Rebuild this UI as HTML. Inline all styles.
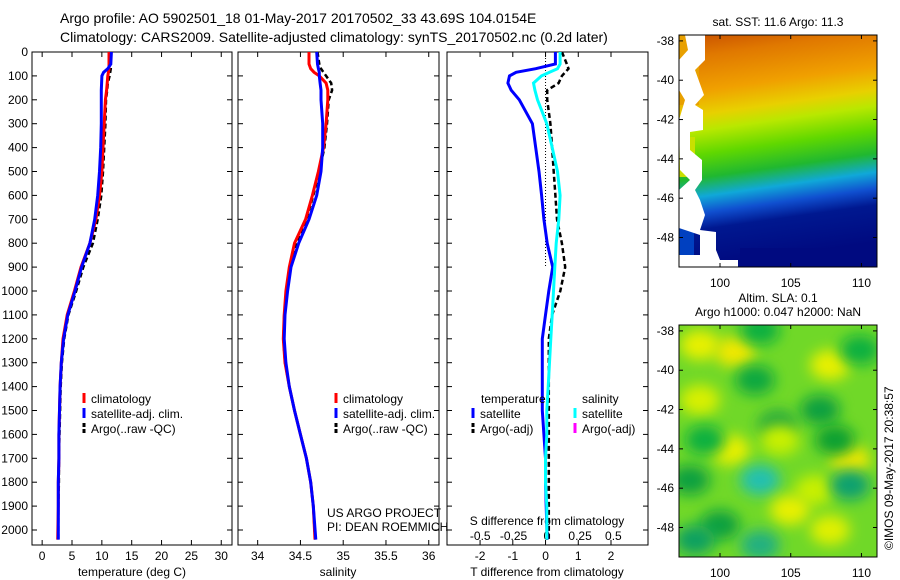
<!DOCTYPE html>
<html><head><meta charset="utf-8">
<style>
body{margin:0;background:#fff;}
svg{display:block;font-family:"Liberation Sans",sans-serif;}
</style></head>
<body>
<svg id="fig" width="900" height="580" viewBox="0 0 900 580">
<defs>
<linearGradient id="sstGrad" x1="0" y1="0" x2="0.12" y2="1">
<stop offset="0" stop-color="#c85000"/><stop offset="0.1" stop-color="#e07800"/>
<stop offset="0.25" stop-color="#f0a000"/><stop offset="0.35" stop-color="#e8d000"/>
<stop offset="0.42" stop-color="#b8e800"/><stop offset="0.52" stop-color="#60d800"/>
<stop offset="0.62" stop-color="#20b830"/><stop offset="0.7" stop-color="#10a8d8"/>
<stop offset="0.77" stop-color="#1050d0"/><stop offset="0.84" stop-color="#001890"/>
<stop offset="1" stop-color="#000a80"/>
</linearGradient>
<filter id="blur" x="-50%" y="-50%" width="200%" height="200%"><feGaussianBlur stdDeviation="7"/></filter>
<clipPath id="clipA"><rect x="679" y="325" width="198" height="232"/></clipPath>
<clipPath id="clipS"><rect x="679" y="35" width="198" height="232"/></clipPath>
</defs>
<text x="60" y="23" font-size="14">Argo profile: AO 5902501_18 01-May-2017 20170502_33 43.69S 104.0154E</text>
<text x="60" y="42" font-size="14">Climatology: CARS2009. Satellite-adjusted climatology: synTS_20170502.nc (0.2d later)</text>
<g id="plots"></g>
<g id="maps"></g>
</svg>
<script>
// depth levels (dbar)
const depths = [0,50,70,85,100,130,160,200,300,400,500,600,700,800,900,1000,1100,1200,1300,1400,1500,1600,1700,1800,1900,2040];
// temperature (deg C)
const tempClim = [11.2,11.2,11.2,11.1,11.0,10.9,10.8,10.6,10.4,10.2,10.0,9.6,9.0,8.0,6.5,5.4,4.2,3.5,3.2,3.0,2.9,2.8,2.8,2.7,2.7,2.6];
const tempSat  = [11.6,11.5,11.0,10.3,10.0,9.95,9.9,9.9,9.9,9.8,9.6,9.3,8.8,8.0,6.6,5.5,4.3,3.6,3.2,3.0,2.9,2.8,2.8,2.7,2.7,2.7];
const tempArgo = [11.4,11.5,11.5,11.4,11.3,11.0,10.9,10.7,10.6,10.4,10.2,9.9,9.3,8.5,6.9,5.7,4.4,3.7,3.3,3.1,3.0,2.9,2.8,2.8,2.7,2.7];
// salinity
const salClim = [34.60,34.60,34.62,34.66,34.72,34.80,34.82,34.82,34.80,34.77,34.71,34.64,34.56,34.43,34.37,34.33,34.31,34.30,34.32,34.37,34.43,34.50,34.57,34.62,34.65,34.67];
const salSat  = [34.69,34.70,34.71,34.72,34.72,34.73,34.74,34.74,34.76,34.76,34.74,34.69,34.60,34.48,34.39,34.35,34.32,34.31,34.33,34.37,34.43,34.50,34.57,34.62,34.65,34.68];
const salArgo = [34.70,34.72,34.74,34.77,34.80,34.86,34.87,34.83,34.81,34.78,34.72,34.65,34.57,34.45,34.38,34.34,34.31,34.30,34.32,34.37,34.43,34.50,34.57,34.62,34.65,34.67];
// differences from climatology
const tDiffSat  = [0.3,0.3,-0.3,-0.9,-1.1,-1.15,-1.05,-0.8,-0.4,-0.3,-0.2,-0.12,-0.05,0.05,0.22,0.1,0.0,-0.1,-0.1,-0.1,-0.1,-0.05,0.0,0.0,0.02,0.05];
const sDiffSat  = [0.1,0.1,0.08,0.02,-0.04,-0.1,-0.09,-0.07,0.0,0.04,0.08,0.1,0.09,0.07,0.06,0.05,0.04,0.03,0.02,0.01,0.0,0.0,-0.01,-0.01,0.0,0.0];
const tDiffArgo = [0.5,0.65,0.7,0.6,0.5,0.4,0.05,0.05,0.15,0.2,0.25,0.3,0.35,0.5,0.6,0.45,0.2,0.1,0.1,0.1,0.1,0.1,0.1,0.1,0.1,0.1];
// tick labels
const depthTicks = [0,100,200,300,400,500,600,700,800,900,1000,1100,1200,1300,1400,1500,1600,1700,1800,1900,2000];
const tempTicks = [0,5,10,15,20,25,30];
const salTicks = [34,34.5,35,35.5,36];
const tdTicks = [-2,-1,0,1,2];
const sdTicks = [-0.5,-0.25,0,0.25,0.5];
const latTicks = [-38,-40,-42,-44,-46,-48];
const lonTicks = [100,105,110];

const NS="http://www.w3.org/2000/svg";
const plots=document.getElementById('plots');
function mk(tag,attrs,parent){const e=document.createElementNS(NS,tag);for(const k in attrs)e.setAttribute(k,attrs[k]);(parent||plots).appendChild(e);return e;}
const yTop=52,yBot=545;
const yScale=d=>yTop+d*(478/2000);

const panels=[
 {name:'temperature',x0:32,x1:232,min:-1.7,max:31.8},
 {name:'salinity',x0:238,x1:439,min:33.77,max:36.12},
 {name:'difference',x0:447,x1:648,min:-3.01,max:3.13}
];
function sx(p,v){return p.x0+(v-p.min)/(p.max-p.min)*(p.x1-p.x0);}

panels.forEach(p=>{
  const f=mk('rect',{x:p.x0,y:yTop,width:p.x1-p.x0,height:yBot-yTop,fill:'none',stroke:'#000','stroke-width':1});
  
  
  depthTicks.forEach(d=>{
    const y=yScale(d);
    mk('line',{x1:p.x0,x2:p.x0+5,y1:y,y2:y,stroke:'#000'});
    mk('line',{x1:p.x1-5,x2:p.x1,y1:y,y2:y,stroke:'#000'});
  });
});
depthTicks.forEach(d=>{
  const t=mk('text',{x:28,y:yScale(d)+4,'font-size':12,'text-anchor':'end'});
  t.textContent=d;
  
  
});
function xTicks(p,ticks,fmt,y,top){
  ticks.forEach(v=>{
    const x=sx(p,v);
    mk('line',{x1:x,x2:x,y1:yBot-5,y2:yBot,stroke:'#000'});
    if(top) mk('line',{x1:x,x2:x,y1:yTop,y2:yTop+5,stroke:'#000'});
    const t=mk('text',{x:x,y:y,'font-size':12,'text-anchor':'middle'});
    t.textContent=fmt(v);
    
    
  });
}
xTicks(panels[0],tempTicks,v=>v,560,true);
xTicks(panels[1],salTicks,v=>v,560,true);
xTicks(panels[2],tdTicks,v=>v,560,true);
const pS={x0:447,x1:648,min:-0.75,max:0.76};
sdTicks.forEach(v=>{
  const t=mk('text',{x:sx(pS,v),y:540,'font-size':12,'text-anchor':'middle'});
  t.textContent=v;
  
  
});
function lbl(x,y,s,name,anchor){const t=mk('text',{x:x,y:y,'font-size':12,'text-anchor':anchor||'middle'});t.textContent=s;return t;}
lbl(132,576,'temperature (deg C)','temperature-axis-title');
lbl(338,576,'salinity','salinity-axis-title');
lbl(547,576,'T difference from climatology','t-diff-axis-title');
lbl(547,525,'S difference from climatology','s-diff-axis-title');
lbl(327,517,'US ARGO PROJECT','project-label','start');
lbl(327,531,'PI: DEAN ROEMMICH','pi-label','start');

function line(p,vals,color,w,dash,name){
  const pts=vals.map((v,i)=>sx(p,v).toFixed(1)+','+yScale(depths[i]).toFixed(1)).join(' ');
  const e=mk('polyline',{points:pts,fill:'none',stroke:color,'stroke-width':w});
  if(dash)e.setAttribute('stroke-dasharray',dash);
  
  
}
line(panels[0],tempArgo,'#000',2.5,'5,3','temp-argo-line');
line(panels[0],tempClim,'#f00',3,null,'temp-climatology-line');
line(panels[0],tempSat,'#00f',3,null,'temp-satellite-line');
line(panels[1],salArgo,'#000',2.5,'5,3','sal-argo-line');
line(panels[1],salClim,'#f00',3,null,'sal-climatology-line');
line(panels[1],salSat,'#00f',3,null,'sal-satellite-line');
const z=mk('line',{x1:sx(panels[2],0),x2:sx(panels[2],0),y1:yTop,y2:yScale(900),stroke:'#000','stroke-dasharray':'1,2'});

line(panels[2],tDiffArgo,'#000',2.5,'5,3','t-diff-argo-line');
line(panels[2],tDiffSat,'#00f',3,null,'t-diff-satellite-line');
line(pS,sDiffSat,'#0ff',3,null,'s-diff-satellite-line');

function legend(x,y,color,dash,text,name){
  const g=mk('g',{});
  mk('line',{x1:x,x2:x,y1:y-10,y2:y,stroke:color,'stroke-width':3,'stroke-dasharray':dash||'none'},g);
  const t=mk('text',{x:x+7,y:y,'font-size':12},g);t.textContent=text;
}
[84,336].forEach(x=>{
  legend(x,403,'#f00',null,'climatology','legend-climatology');
  legend(x,418,'#00f',null,'satellite-adj. clim.','legend-satellite-adj');
  legend(x,433,'#000','4,2','Argo(..raw -QC)','legend-argo');
});
lbl(481,403,'temperature','legend-temperature-header','start');
lbl(582,403,'salinity','legend-salinity-header','start');
legend(473,418,'#00f',null,'satellite','legend-t-satellite');
legend(473,433,'#000','4,2','Argo(-adj)','legend-t-argo');
legend(575,418,'#0ff',null,'satellite','legend-s-satellite');
legend(575,433,'#f0f',null,'Argo(-adj)','legend-s-argo');

// maps
const maps=document.getElementById('maps');
function mm(tag,attrs,parent){const e=document.createElementNS(NS,tag);for(const k in attrs)e.setAttribute(k,attrs[k]);(parent||maps).appendChild(e);return e;}
const mx0=679,mx1=877;
const lonX=l=>mx0+(l-97.1)*(198/14);
const latY=(la,y0)=>y0+(-37.7-la)*(232/11.8);
function mapAxes(y0,name){
  const r=mm('rect',{x:mx0,y:y0,width:198,height:232,fill:'none',stroke:'#000'});
  
  latTicks.forEach(la=>{const y=latY(la,y0);
    mm('line',{x1:mx0,x2:mx0+4,y1:y,y2:y,stroke:'#000'});mm('line',{x1:mx1-4,x2:mx1,y1:y,y2:y,stroke:'#000'});
    const t=mm('text',{x:674,y:y+4,'font-size':12,'text-anchor':'end'});t.textContent=la;
    });
  lonTicks.forEach(l=>{const x=lonX(l);
    mm('line',{x1:x,x2:x,y1:y0,y2:y0+4,stroke:'#000'});mm('line',{x1:x,x2:x,y1:y0+228,y2:y0+232,stroke:'#000'});
    const t=mm('text',{x:x,y:y0+252,'font-size':12,'text-anchor':'middle'});t.textContent=l;
    });
}
// SST map
const sg=mm('g',{'clip-path':'url(#clipS)'});

mm('rect',{x:mx0,y:35,width:198,height:232,fill:'url(#sstGrad)'},sg);
mm('rect',{x:679,y:35,width:20,height:70,fill:'#e8a000'},sg);
mm('rect',{x:679,y:137,width:16,height:40,fill:'#c8e000'},sg);
mm('rect',{x:679,y:210,width:15,height:57,fill:'#0040c0'},sg);
mm('polygon',{points:'685,35 705,35 705,60 695,70 704,95 695,105 703,110 703,130 690,132 690,150 702,160 702,180 695,190 700,200 705,215 700,230 716,232 716,250 720,260 738,260 738,267 679,267 679,255 700,255 700,235 679,228 679,190 690,180 680,170 679,120 685,100 679,90 679,60 688,50',fill:'#fff'},sg);
mm('rect',{x:740,y:248,width:137,height:19,fill:'#000a80'},sg);
mapAxes(35,'sst-map');
const st=mm('text',{x:778,y:26,'font-size':12,'text-anchor':'middle'});st.textContent='sat. SST: 11.6 Argo: 11.3';

// SLA map
const ag=mm('g',{'clip-path':'url(#clipA)'});

mm('rect',{x:mx0,y:325,width:198,height:232,fill:'#70d828'},ag);
const blobs=[[700,345,'#e8f000'],[735,352,'#f0e800'],[830,365,'#e8f000'],[755,380,'#10a840'],[820,410,'#10a040'],[700,400,'#d8f000'],[778,425,'#20a840'],[730,450,'#e8f000'],[780,440,'#c8f000'],[850,460,'#f0e800'],[835,440,'#10a030'],[760,480,'#20c0b0'],[690,480,'#10a040'],[815,490,'#c8f000'],[850,485,'#10a070'],[790,510,'#e8f000'],[720,525,'#10a040'],[760,545,'#20b080'],[830,530,'#e0f000'],[695,540,'#10a060'],[860,350,'#10b040'],[705,440,'#10b040'],[760,330,'#10b040']];
blobs.forEach(b=>mm('ellipse',{cx:b[0],cy:b[1],rx:20,ry:15,fill:b[2],filter:'url(#blur)'},ag));
mapAxes(325,'sla-map');
const a1=mm('text',{x:778,y:302,'font-size':12,'text-anchor':'middle'});a1.textContent='Altim. SLA: 0.1';

const a2=mm('text',{x:778,y:316,'font-size':12,'text-anchor':'middle'});a2.textContent='Argo h1000: 0.047 h2000: NaN';

const c=mm('text',{x:893,y:550,'font-size':12,transform:'rotate(-90 893 550)'});c.textContent='©IMOS 09-May-2017 20:38:57';

</script>
</body></html>
